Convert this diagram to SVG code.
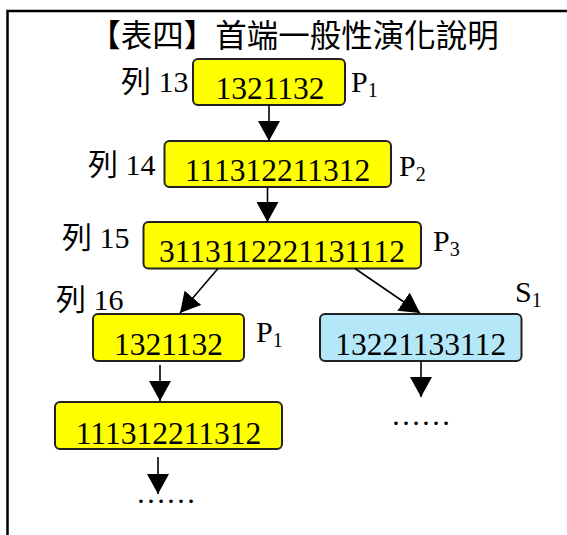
<svg xmlns="http://www.w3.org/2000/svg" width="567" height="535" viewBox="0 0 567 535">
<style>
.t{font-family:"Liberation Serif","Noto Sans CJK TC",serif;font-size:30px;fill:#000}
.n{font-size:31.5px}
.c{text-anchor:middle}
.sub{font-size:20px}
.y{fill:#FFFF00;stroke:#222;stroke-width:2}
.b{fill:#B4E7F8;stroke:#222;stroke-width:2}
.ln{stroke:#000;stroke-width:1.6;fill:none}
</style>
<defs>
<marker id="ah" markerUnits="userSpaceOnUse" markerWidth="20" markerHeight="22" refX="20" refY="11" orient="auto" viewBox="0 0 20 22">
<path d="M0,0 L20,11 L0,22 z" fill="#000"/>
</marker>
</defs>
<rect width="567" height="535" fill="#fff"/>
<path d="M7.5,535 V11 H567" fill="none" stroke="#000" stroke-width="2.5"/>
<text class="t c" x="294" y="47" style="font-size:31.5px">【表四】首端一般性演化說明</text>
<g id="n1">
<rect class="y" x="193" y="59" width="152" height="46" rx="5"/>
<text class="t n c" x="270" y="98.5">1321132</text>
<text class="t" x="121" y="92">列 13</text>
<text class="t" x="351" y="92">P<tspan class="sub" dy="5">1</tspan></text>
</g>
<g id="n2">
<rect class="y" x="164.5" y="141" width="226.5" height="46" rx="5"/>
<text class="t n c" x="277.5" y="180.5">111312211312</text>
<text class="t" x="88" y="175">列 14</text>
<text class="t" x="399" y="176">P<tspan class="sub" dy="5">2</tspan></text>
</g>
<g id="n3">
<rect class="y" x="143.5" y="222" width="277.5" height="46.5" rx="5"/>
<text class="t n c" x="282" y="262">3113112221131112</text>
<text class="t" x="62" y="248">列 15</text>
<text class="t" x="433" y="251">P<tspan class="sub" dy="5">3</tspan></text>
</g>
<g id="n4">
<rect class="y" x="93" y="314" width="151" height="47" rx="5"/>
<text class="t n c" x="168.5" y="354.5">1321132</text>
<text class="t" x="56" y="310">列 16</text>
<text class="t" x="256" y="342">P<tspan class="sub" dy="5">1</tspan></text>
</g>
<g id="n5">
<rect class="b" x="320" y="314" width="201.5" height="47" rx="5"/>
<text class="t n c" x="420.75" y="354.5">13221133112</text>
<text class="t" x="515" y="302">S<tspan class="sub" dy="5">1</tspan></text>
</g>
<g id="n6">
<rect class="y" x="55" y="402" width="227" height="47" rx="5"/>
<text class="t n c" x="168.5" y="443.5">111312211312</text>
</g>
<g id="dots">
<text class="t c" x="166" y="503">……</text>
<text class="t c" x="421" y="425">……</text>
</g>
<g id="connectors">
<line class="ln" x1="269" y1="105" x2="269" y2="141" marker-end="url(#ah)"/>
<line class="ln" x1="267.5" y1="187" x2="267.5" y2="222" marker-end="url(#ah)"/>
<line class="ln" x1="218" y1="268.5" x2="180" y2="313" marker-end="url(#ah)"/>
<line class="ln" x1="355" y1="268.5" x2="420" y2="313" marker-end="url(#ah)"/>
<line class="ln" x1="160" y1="365" x2="160" y2="401" marker-end="url(#ah)"/>
<line class="ln" x1="158" y1="457" x2="158" y2="494" marker-end="url(#ah)"/>
<line class="ln" x1="421" y1="361" x2="421" y2="397" marker-end="url(#ah)"/>
</g>
</svg>
